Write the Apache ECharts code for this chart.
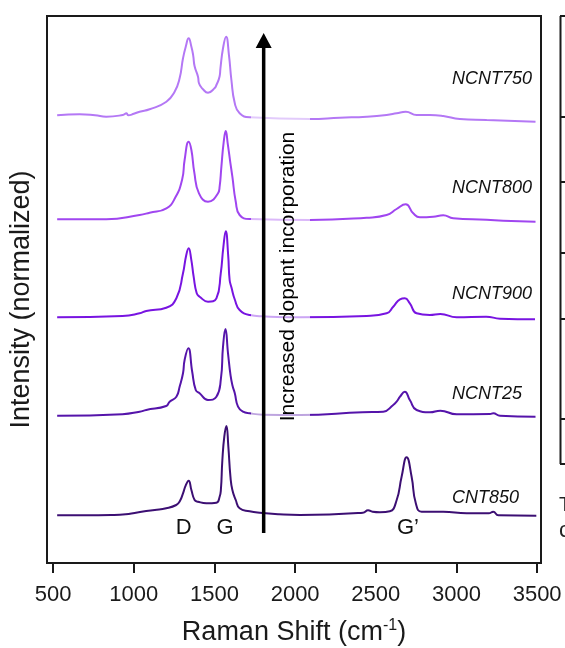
<!DOCTYPE html>
<html>
<head>
<meta charset="utf-8">
<script src="https://cdn.jsdelivr.net/npm/echarts@6/dist/echarts.min.js"></script>
<style>
  html, body { margin: 0; padding: 0; background: #fff; }
  #chart { width: 565px; height: 648px; }
</style>
</head>
<body>
<div id="chart"></div>
<script>
// Raman spectra (normalized intensity vs. Raman shift), stacked with vertical offsets
const xTicks = [500, 1000, 1500, 2000, 2500, 3000, 3500];
const sampleNames = ['CNT850', 'NCNT25', 'NCNT900', 'NCNT800', 'NCNT750'];
const offsets = [0.477, 1.473, 2.457, 3.437, 4.477];

// [Raman shift (cm-1), intensity above baseline]
const cnt850 = [
  [525, 0], [700, 0], [860, 0.003], [950, 0.01], [1005, 0.023], [1077, 0.043], [1130, 0.053],
  [1201, 0.07], [1263, 0.103], [1285, 0.14], [1305, 0.22], [1322, 0.30], [1340, 0.346],
  [1357, 0.253], [1377, 0.153], [1398, 0.136], [1450, 0.12], [1512, 0.126], [1532, 0.186],
  [1540, 0.26], [1549, 0.553], [1561, 0.786], [1574, 0.893], [1586, 0.686], [1599, 0.386],
  [1611, 0.253], [1632, 0.153], [1656, 0.07], [1718, 0.04], [1780, 0.025], [1900, 0.01],
  [2030, 0.003], [2420, 0.026], [2452, 0.05], [2480, 0.035], [2525, 0.03], [2587, 0.04],
  [2629, 0.15], [2660, 0.386], [2691, 0.58], [2722, 0.386], [2748, 0.12], [2784, 0.036],
  [2918, 0.036], [3063, 0.02], [3200, 0.02], [3228, 0.036], [3260, 0.0], [3495, -0.004]
];
const ncnt25 = [
  [525, 0], [930, 0.015], [1036, 0.04], [1077, 0.057], [1201, 0.097], [1222, 0.14],
  [1264, 0.19], [1284, 0.29], [1305, 0.424], [1315, 0.557], [1338, 0.674], [1362, 0.44],
  [1384, 0.257], [1408, 0.224], [1460, 0.157], [1512, 0.19], [1540, 0.37], [1553, 0.69],
  [1568, 0.867], [1584, 0.624], [1600, 0.40], [1612, 0.30], [1626, 0.224], [1646, 0.09],
  [1677, 0.04], [1718, 0.024], [1800, 0.01], [2030, 0.007], [2417, 0.034], [2546, 0.04],
  [2608, 0.107], [2629, 0.14], [2650, 0.19], [2680, 0.24], [2711, 0.157], [2753, 0.057],
  [2835, 0.034], [2900, 0.05], [3001, 0.014], [3208, 0.017], [3228, 0.024], [3270, 0.0],
  [3490, -0.01]
];
const ncnt900 = [
  [525, 0], [930, 0.013], [1036, 0.04], [1077, 0.063], [1201, 0.096], [1264, 0.19],
  [1305, 0.44], [1325, 0.62], [1340, 0.69], [1356, 0.58], [1371, 0.406], [1390, 0.24],
  [1408, 0.206], [1460, 0.156], [1512, 0.19], [1539, 0.44], [1555, 0.70], [1570, 0.86],
  [1585, 0.62], [1594, 0.373], [1605, 0.30], [1627, 0.173], [1656, 0.073], [1718, 0.023],
  [1800, 0.01], [2030, 0.0], [2443, 0.013], [2567, 0.04], [2608, 0.106], [2650, 0.18],
  [2680, 0.19], [2711, 0.14], [2753, 0.04], [2835, 0.023], [2900, 0.033], [3001, 0.0],
  [3184, 0.006], [3270, -0.014], [3487, -0.02]
];
const ncnt800 = [
  [525, 0], [829, 0], [1036, 0.043], [1098, 0.066], [1202, 0.11], [1258, 0.22],
  [1300, 0.40], [1315, 0.593], [1340, 0.776], [1357, 0.693], [1375, 0.47], [1404, 0.26],
  [1460, 0.176], [1522, 0.26], [1532, 0.326], [1543, 0.526], [1557, 0.77], [1570, 0.883],
  [1582, 0.76], [1599, 0.56], [1611, 0.426], [1632, 0.175], [1656, 0.043], [1720, 0.003],
  [2091, -0.007], [2443, 0.016], [2567, 0.043], [2629, 0.103], [2685, 0.15], [2732, 0.06],
  [2773, 0.02], [2856, 0.026], [2918, 0.04], [2980, 0.01], [3187, -0.004], [3290, -0.014],
  [3490, -0.024]
];
const ncnt750 = [
  [525, 0], [664, 0.01], [760, 0.0], [829, -0.014], [932, 0.003], [955, 0.02], [965, 0.0],
  [1000, 0.015], [1036, 0.036], [1098, 0.06], [1202, 0.136], [1253, 0.236], [1284, 0.37],
  [1305, 0.57], [1322, 0.686], [1340, 0.77], [1357, 0.686], [1368, 0.60], [1377, 0.49],
  [1398, 0.386], [1404, 0.32], [1429, 0.26], [1460, 0.226], [1500, 0.27], [1512, 0.303],
  [1532, 0.39], [1537, 0.47], [1553, 0.67], [1572, 0.786], [1590, 0.60], [1605, 0.353],
  [1626, 0.12], [1656, 0.02], [1718, -0.02], [2091, -0.037], [2277, -0.024], [2443, -0.014],
  [2567, 0.003], [2629, 0.02], [2686, 0.036], [2753, 0.003], [2835, 0.003], [2918, -0.007],
  [3021, -0.037], [3187, -0.047], [3490, -0.064]
];
const spectra = [cnt850, ncnt25, ncnt900, ncnt800, ncnt750];
const peakNames = ['D', 'G', 'G\u2019'];
const peakLabelAt = [1309, 1565, 2699];
const arrowText = 'Increased dopant incorporation';
const arrowX = 1805;
const arrowFrom = 0.30;
const arrowTo = 5.30;

// styling
const lineColors = ['#3c0f73', '#5514aa', '#7814e1', '#a046f0', '#b478f5'];
const nameLift = [0.17, 0.22, 0.23, 0.31, 0.366];
const FONT = '"Liberation Sans", Arial, Helvetica, sans-serif';
const INK = '#1a1a1a';

const chart = echarts.init(document.getElementById('chart'), null, { renderer: 'canvas' });

const series = spectra.map((arr, i) => ({
  name: sampleNames[i],
  type: 'line',
  data: arr.map(([x, y]) => [x, y + offsets[i]]),
  showSymbol: false,
  smooth: 0.5,
  lineStyle: { width: 2, color: lineColors[i] },
  z: 2,
  silent: true
}));

const option = {
  animation: false,
  backgroundColor: '#fff',
  grid: {
    left: 47, right: 24, top: 16, bottom: 85,
    show: true, borderColor: INK, borderWidth: 2,
    containLabel: false, outerBoundsMode: 'none'
  },
  xAxis: {
    type: 'value',
    min: 462, max: 3524,
    axisLine: { show: false },
    splitLine: { show: false },
    axisTick: {
      show: true, inside: false, length: 10,
      customValues: xTicks,
      lineStyle: { color: INK, width: 2 }
    },
    axisLabel: {
      customValues: xTicks,
      formatter: v => String(v),
      fontSize: 22, color: INK, fontFamily: FONT, margin: 21
    },
    name: '{t|Raman Shift (cm}{s|-1}{t|)}',
    nameLocation: 'middle',
    nameGap: 55,
    nameTextStyle: {
      rich: {
        t: { fontSize: 27, color: INK, fontFamily: FONT },
        s: { fontSize: 16, color: INK, fontFamily: FONT, padding: [0, 0, 14, 0] }
      }
    }
  },
  yAxis: {
    type: 'value',
    min: 0, max: 5.47,
    axisLine: { show: false },
    axisTick: { show: false },
    axisLabel: { show: false },
    splitLine: { show: false },
    name: 'Intensity (normalized)',
    nameLocation: 'middle',
    nameGap: 12,
    nameTextStyle: { fontSize: 27, color: INK, fontFamily: FONT, padding: [0, 0, 0, -20] }
  },
  series: series
};

chart.setOption(option);

// annotations placed from data coordinates
const px = (x, y) => chart.convertToPixel({ gridIndex: 0 }, [x, y]);
const graphics = [];

// translucent backing behind the arrow caption
graphics.push({
  type: 'rect', z: 10, silent: true,
  shape: { x: 251, y: 25, width: 59, height: 407 },
  style: { fill: 'rgba(255,255,255,0.62)' }
});

// upward arrow
const aBot = px(arrowX, arrowFrom);
const aTop = px(arrowX, arrowTo);
const headH = 15, headW = 16;
graphics.push({
  type: 'line', z: 40, silent: true,
  shape: { x1: aBot[0], y1: aBot[1], x2: aTop[0], y2: aTop[1] + headH - 1 },
  style: { stroke: '#000', lineWidth: 3.5 }
});
graphics.push({
  type: 'polygon', z: 40, silent: true,
  shape: { points: [[aTop[0], aTop[1]], [aTop[0] - headW / 2, aTop[1] + headH], [aTop[0] + headW / 2, aTop[1] + headH]] },
  style: { fill: '#000' }
});

const capPos = px(1960, 2.865);
graphics.push({
  type: 'text', z: 30, silent: true,
  x: capPos[0], y: capPos[1], rotation: Math.PI / 2,
  style: {
    text: arrowText, fontSize: 21, fontFamily: FONT, fill: '#000',
    align: 'center', verticalAlign: 'middle'
  }
});

sampleNames.forEach((n, i) => {
  const p = px(2972, offsets[i] + nameLift[i]);
  graphics.push({
    type: 'text', z: 30, silent: true, x: p[0], y: p[1],
    style: {
      text: n, fontSize: 18, fontStyle: 'italic', fontFamily: FONT, fill: '#111',
      align: 'left', verticalAlign: 'middle'
    }
  });
});

peakNames.forEach((n, i) => {
  const p = px(peakLabelAt[i], 0.35);
  graphics.push({
    type: 'text', z: 30, silent: true, x: p[0], y: p[1],
    style: {
      text: n, fontSize: 22, fontFamily: FONT, fill: '#111',
      align: 'center', verticalAlign: 'middle'
    }
  });
});

// edge of the neighbouring table
const tableRows = [16, 117, 182, 253, 319, 419, 464];
graphics.push({
  type: 'line', silent: true,
  shape: { x1: 560.5, y1: 16, x2: 560.5, y2: 464 },
  style: { stroke: INK, lineWidth: 2 }
});
tableRows.forEach(y => graphics.push({
  type: 'line', silent: true,
  shape: { x1: 560, y1: y, x2: 566, y2: y },
  style: { stroke: INK, lineWidth: 2 }
}));
graphics.push({
  type: 'text', silent: true, x: 559, y: 505,
  style: { text: 'T', fontSize: 20, fontFamily: FONT, fill: '#222', verticalAlign: 'middle' }
});
graphics.push({
  type: 'text', silent: true, x: 559, y: 531,
  style: { text: 'c', fontSize: 22, fontFamily: FONT, fill: '#222', verticalAlign: 'middle' }
});

chart.setOption({ graphic: { elements: graphics } });
</script>
</body>
</html>
